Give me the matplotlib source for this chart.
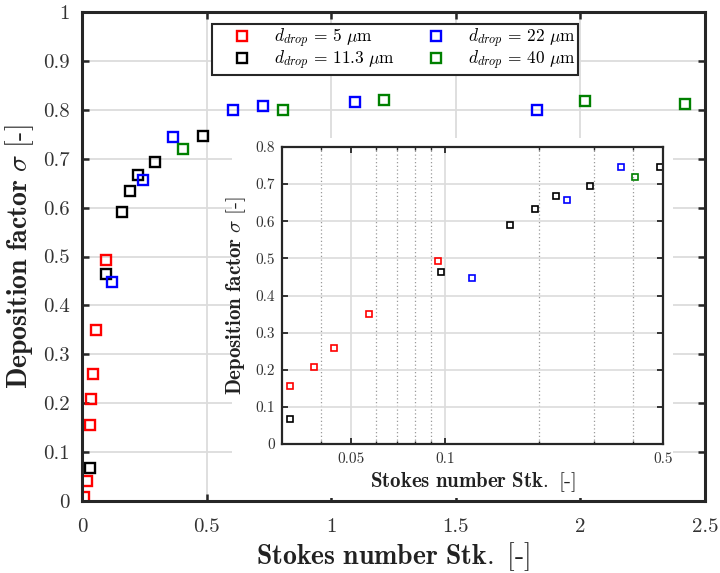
import matplotlib
matplotlib.use("Agg")
import matplotlib.pyplot as plt
from matplotlib.patches import Rectangle
from matplotlib.ticker import FixedLocator, FixedFormatter, NullFormatter

plt.rcParams['font.family'] = 'cmr10'
plt.rcParams['mathtext.fontset'] = 'cm'
plt.rcParams['axes.unicode_minus'] = False
plt.rcParams['axes.formatter.use_mathtext'] = True

# Deposition factor vs Stokes number for each droplet diameter
stk_5 = [0.008, 0.021, 0.032, 0.038, 0.044, 0.057, 0.095]
sigma_5 = [0.008, 0.040, 0.156, 0.208, 0.259, 0.349, 0.493]

stk_11 = [0.032, 0.097, 0.161, 0.194, 0.226, 0.292, 0.487]
sigma_11 = [0.068, 0.464, 0.591, 0.634, 0.667, 0.694, 0.747]

stk_22 = [0.122, 0.245, 0.366, 0.606, 0.728, 1.095, 1.825]
sigma_22 = [0.447, 0.656, 0.745, 0.800, 0.808, 0.815, 0.800]

stk_40 = [0.405, 0.808, 1.211, 2.019, 2.421]
sigma_40 = [0.719, 0.800, 0.820, 0.817, 0.811]

labels = [r'$d_{drop} \,=\, 5\ \mu$m', r'$d_{drop} \,=\, 11.3\ \mu$m',
          r'$d_{drop} \,=\, 22\ \mu$m', r'$d_{drop} \,=\, 40\ \mu$m']
colors = ['#ff0000', '#000000', '#0000ff', '#008000']

main_xticks = [0, 0.5, 1, 1.5, 2, 2.5]
main_xticklabels = ['0', '0.5', '1', '1.5', '2', '2.5']
main_yticks = [0, 0.1, 0.2, 0.3, 0.4, 0.5, 0.6, 0.7, 0.8, 0.9, 1]
main_yticklabels = ['0', '0.1', '0.2', '0.3', '0.4', '0.5', '0.6', '0.7', '0.8', '0.9', '1']

inset_xticks = [0.05, 0.1, 0.5]
inset_xticklabels = ['0.05', '0.1', '0.5']
inset_xminor = [0.04, 0.06, 0.07, 0.08, 0.09, 0.2, 0.3, 0.4]
inset_yticks = [0, 0.1, 0.2, 0.3, 0.4, 0.5, 0.6, 0.7, 0.8]
inset_yticklabels = ['0', '0.1', '0.2', '0.3', '0.4', '0.5', '0.6', '0.7', '0.8']

series = [(stk_5, sigma_5), (stk_11, sigma_11), (stk_22, sigma_22), (stk_40, sigma_40)]

axis_color = '#262626'
grid_color = '#dcdcdc'

xlabel = r'$\mathbf{Stokes\ number\ Stk.}\ \text{[-]}$'
ylabel = r'$\mathbf{Deposition\ factor}\ \sigma\ \text{[-]}$'

fig = plt.figure(figsize=(7.2, 5.73), dpi=100)

# ---- main axes ----
ax = fig.add_axes([82 / 720, 1 - 501 / 573, 623 / 720, 489 / 573], zorder=0)
for (x, y), c, lab in zip(series, colors, labels):
    ax.plot(x, y, linestyle='none', marker='s', mfc='none', mec=c,
            ms=7.6, mew=1.7, label=lab)
ax.set_xlim(0, 2.5)
ax.set_ylim(0, 1)
ax.xaxis.set_major_locator(FixedLocator(main_xticks))
ax.xaxis.set_major_formatter(FixedFormatter(main_xticklabels))
ax.yaxis.set_major_locator(FixedLocator(main_yticks))
ax.yaxis.set_major_formatter(FixedFormatter(main_yticklabels))
ax.set_axisbelow(True)
ax.grid(True, color=grid_color, lw=1.3)
ax.tick_params(direction='in', top=True, right=True, length=5, width=1.8,
               color=axis_color, labelsize=15, labelcolor='#333333')
ax.tick_params(axis='x', pad=12)
ax.tick_params(axis='y', pad=9)
for s in ax.spines.values():
    s.set_linewidth(2.2)
    s.set_color(axis_color)
ax.set_xlabel(xlabel, fontsize=20, color='#222222')
ax.set_ylabel(ylabel, fontsize=20, color='#222222')
ax.xaxis.set_label_coords(0.5, -0.08)
ax.yaxis.set_label_coords(-0.074, 0.5)

leg = ax.legend(loc='upper left', bbox_to_anchor=(212 / 720, 1 - 24 / 573),
                bbox_transform=fig.transFigure, ncol=2, fontsize=12.5,
                frameon=True, fancybox=False, framealpha=1, edgecolor=axis_color,
                handlelength=3.2, handletextpad=0.25, columnspacing=0.7,
                borderpad=0.15, labelspacing=-0.05, borderaxespad=0)
leg.get_frame().set_linewidth(1.5)

# white backing behind the inset and its labels
fig.add_artist(Rectangle((232 / 720, 1 - 498 / 573), 441 / 720, 360 / 573,
                         transform=fig.transFigure, facecolor='white',
                         edgecolor='none', zorder=1))

# ---- inset (log x) ----
axi = fig.add_axes([282 / 720, 1 - 444 / 573, 381.3 / 720, 297 / 573], zorder=2)
for (x, y), c in zip(series, colors):
    axi.plot(x, y, linestyle='none', marker='s', mfc='none', mec=c,
             ms=4.6, mew=1.2)
axi.set_xscale('log')
axi.set_xlim(0.0301, 0.5)
axi.set_ylim(0, 0.8)
axi.xaxis.set_major_locator(FixedLocator(inset_xticks))
axi.xaxis.set_major_formatter(FixedFormatter(inset_xticklabels))
axi.xaxis.set_minor_locator(FixedLocator(inset_xminor))
axi.xaxis.set_minor_formatter(NullFormatter())
axi.yaxis.set_major_locator(FixedLocator(inset_yticks))
axi.yaxis.set_major_formatter(FixedFormatter(inset_yticklabels))
axi.set_axisbelow(True)
axi.grid(True, which='major', color=grid_color, lw=1.2)
axi.grid(True, which='minor', axis='x', color='#9a9a9a', ls=(0, (1, 2)), lw=0.9)
axi.tick_params(which='both', direction='in', top=True, right=True,
                color=axis_color, labelsize=11, labelcolor='#333333')
axi.tick_params(which='major', length=4, width=1.3)
axi.tick_params(which='minor', length=2.5, width=1.0)
axi.tick_params(axis='x', pad=6)
axi.tick_params(axis='y', pad=5)
for s in axi.spines.values():
    s.set_linewidth(1.6)
    s.set_color(axis_color)
axi.set_xlabel(xlabel, fontsize=15, color='#222222')
axi.set_ylabel(ylabel, fontsize=15, color='#222222')
axi.xaxis.set_label_coords(0.5, -0.088)
axi.yaxis.set_label_coords(-0.089, 0.5)

fig.savefig('out.png', dpi=100)
